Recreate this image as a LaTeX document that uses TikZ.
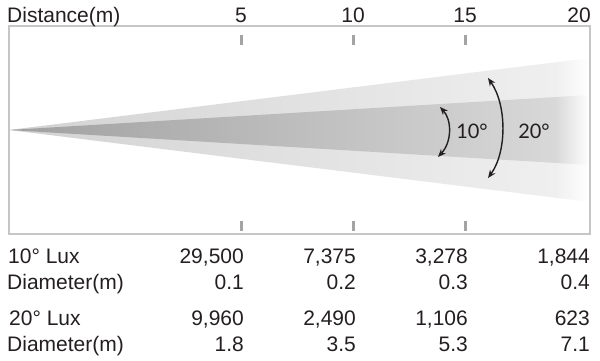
\documentclass[tikz,border=0pt]{standalone}
\usepackage{fontspec}
\setmainfont{Liberation Sans}
\newfontfamily\anglefont{Lato}
\usetikzlibrary{arrows.meta}

\definecolor{ink}{HTML}{231F20}
\definecolor{framegray}{HTML}{C6C6C6}
\definecolor{tickgray}{HTML}{A4A4A4}
\definecolor{wideL}{HTML}{D2D2D2}
\definecolor{wideR}{HTML}{EFEFEF}
\definecolor{narrowL}{HTML}{A0A0A0}
\definecolor{narrowR}{HTML}{D8D8D8}

\pgfdeclarehorizontalshading{widebeam}{100bp}{color(0bp)=(wideL); color(25bp)=(wideL); color(72bp)=(wideR); color(75bp)=(white); color(100bp)=(white)}
\pgfdeclarehorizontalshading{narrowbeam}{100bp}{color(0bp)=(narrowL); color(25bp)=(narrowL); color(72bp)=(narrowR); color(75bp)=(white); color(100bp)=(white)}

\begin{document}
\begin{tikzpicture}[x=1pt,y=-1pt,
  txt/.style={text=ink, inner sep=0pt, font=\fontsize{21}{25}\selectfont},
  angtxt/.style={text=ink, inner sep=0pt, font=\anglefont\fontsize{20}{24}\selectfont},
  tick/.style={tickgray, line width=3pt},
  angarrow/.style={ink, line width=1.4pt, {Stealth[length=8pt,width=6.5pt]}-{Stealth[length=8pt,width=6.5pt]}}]
\useasboundingbox (0,0) rectangle (600,361);

% beams
\shade[shading=widebeam] (9,130) -- (590,58) -- (590,202) -- cycle;
\shade[shading=narrowbeam] (9,130) -- (590,95) -- (590,165) -- cycle;

% frame and ticks
\draw[framegray, line width=1.5pt] (9,26) rectangle (590,234);
\draw[tick] (241,35) -- (241,45);
\draw[tick] (353,35) -- (353,45);
\draw[tick] (465,35) -- (465,45);
\draw[tick] (241,221) -- (241,231);
\draw[tick] (353,221) -- (353,231);
\draw[tick] (465,221) -- (465,231);

% header
\node[txt, anchor=base west] (dist) at (7,23) {Distance(m)};
\node[txt, anchor=base] (m5) at (241,23) {5};
\node[txt, anchor=base] (m10) at (353,23) {10};
\node[txt, anchor=base] (m15) at (465,23) {15};
\node[txt, anchor=base east] (m20) at (591,23) {20};

% beam angles
\coordinate (n1) at (440,107);
\coordinate (n2) at (438,157);
\coordinate (w1) at (488,78);
\coordinate (w2) at (488,178);
\draw[angarrow] (n1) .. controls (452,120) and (452,142) .. (n2);
\draw[angarrow] (w1) .. controls (507,105) and (507,152) .. (w2);
\node[angtxt] (ang10) at (472,131) {10°};
\node[angtxt] (ang20) at (534,131) {20°};

% table
\node[txt, anchor=base west] (lux10) at (8,263) {10° Lux};
\node[txt, anchor=base east] (lux10a) at (244,263) {29,500};
\node[txt, anchor=base east] (lux10b) at (356,263) {7,375};
\node[txt, anchor=base east] (lux10c) at (468,263) {3,278};
\node[txt, anchor=base east] (lux10d) at (590,263) {1,844};

\node[txt, anchor=base west] (dia10) at (7,289) {Diameter(m)};
\node[txt, anchor=base east] (dia10a) at (244,289) {0.1};
\node[txt, anchor=base east] (dia10b) at (356,289) {0.2};
\node[txt, anchor=base east] (dia10c) at (468,289) {0.3};
\node[txt, anchor=base east] (dia10d) at (590,289) {0.4};

\node[txt, anchor=base west] (lux20) at (9,325) {20° Lux};
\node[txt, anchor=base east] (lux20a) at (244,325) {9,960};
\node[txt, anchor=base east] (lux20b) at (356,325) {2,490};
\node[txt, anchor=base east] (lux20c) at (468,325) {1,106};
\node[txt, anchor=base east] (lux20d) at (590,325) {623};

\node[txt, anchor=base west] (dia20) at (7,351) {Diameter(m)};
\node[txt, anchor=base east] (dia20a) at (244,351) {1.8};
\node[txt, anchor=base east] (dia20b) at (356,351) {3.5};
\node[txt, anchor=base east] (dia20c) at (468,351) {5.3};
\node[txt, anchor=base east] (dia20d) at (590,351) {7.1};
\end{tikzpicture}
\end{document}
